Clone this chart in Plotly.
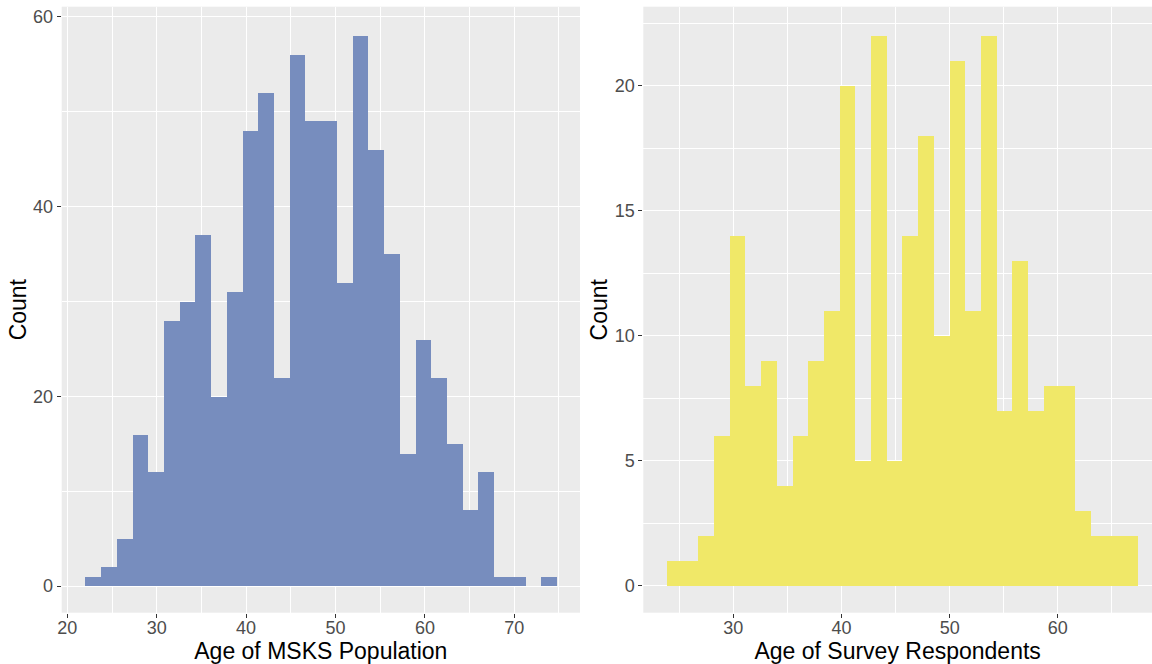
import numpy as np
import plotly.graph_objects as go

# ---- data ----
msks_counts = [1, 2, 5, 16, 12, 28, 30, 37, 20, 31, 48, 52, 22, 56, 49,
               49, 32, 58, 46, 35, 14, 26, 22, 15, 8, 12, 1, 1, 0, 1]
msks_bin_start = 21.98
msks_bin_width = 1.759

survey_counts = [1, 1, 2, 6, 14, 8, 9, 4, 6, 9, 11, 20, 5, 22, 5,
                 14, 18, 10, 21, 11, 22, 7, 13, 7, 8, 8, 3, 2, 2, 2]
survey_bin_start = 23.9
survey_bin_width = 1.451

left_xticks = [20, 30, 40, 50, 60, 70]
left_yticks = [0, 20, 40, 60]
right_xticks = [30, 40, 50, 60]
right_yticks = [0, 5, 10, 15, 20]

left_xtitle = "Age of MSKS Population"
right_xtitle = "Age of Survey Respondents"
ytitle = "Count"

# ---- styles ----
BLUE = "#778DBE"
YELLOW = "#F0E868"
PANEL = "#EBEBEB"
TICKCOL = "#4D4D4D"
FONT = "Liberation Sans, Arial, sans-serif"


def centers(start, width, n):
    return start + width * (np.arange(n) + 0.5)


fig = go.Figure()
fig.add_trace(go.Bar(
    x=centers(msks_bin_start, msks_bin_width, len(msks_counts)),
    y=msks_counts, width=msks_bin_width,
    marker=dict(color=BLUE, line=dict(width=0)),
    xaxis="x", yaxis="y", showlegend=False))
fig.add_trace(go.Bar(
    x=centers(survey_bin_start, survey_bin_width, len(survey_counts)),
    y=survey_counts, width=survey_bin_width,
    marker=dict(color=YELLOW, line=dict(width=0)),
    xaxis="x2", yaxis="y2", showlegend=False))

W, H = 1152, 664
ydom = [1 - 612.7 / H, 1 - 6.7 / H]
TITLE_FONT = dict(family=FONT, size=23, color="black")


def axis_common():
    return dict(
        showgrid=True, gridcolor="white", gridwidth=1.2,
        zeroline=False, showline=False,
        ticks="outside", ticklen=4, tickwidth=1, tickcolor="#333333",
        tickfont=dict(family=FONT, size=18, color=TICKCOL),
        fixedrange=True, automargin=False,
    )


xa = axis_common()
xa.update(domain=[61.7 / W, 580 / W], range=[19.37, 77.35],
          tickvals=left_xticks, anchor="y", ticklabelstandoff=-5,
          minor=dict(tick0=25, dtick=10, showgrid=True, gridcolor="white",
                     gridwidth=0.6, ticklen=0),
          title=dict(text=left_xtitle, font=TITLE_FONT, standoff=7))
ya = axis_common()
ya.update(domain=ydom, range=[-2.81, 61.06], tickvals=left_yticks, anchor="x",
          minor=dict(tick0=10, dtick=20, showgrid=True, gridcolor="white",
                     gridwidth=0.6, ticklen=0),
          title=dict(text=ytitle, font=TITLE_FONT, standoff=0))

xa2 = axis_common()
xa2.update(domain=[643.3 / W, 1.0], range=[21.69, 68.70],
           tickvals=right_xticks, anchor="y2", ticklabelstandoff=-5,
           minor=dict(tick0=25, dtick=10, showgrid=True, gridcolor="white",
                      gridwidth=0.6, ticklen=0),
           title=dict(text=right_xtitle, font=TITLE_FONT, standoff=7))
ya2 = axis_common()
ya2.update(domain=ydom, range=[-1.07, 23.16], tickvals=right_yticks, anchor="x2",
           minor=dict(tick0=2.5, dtick=5, showgrid=True, gridcolor="white",
                      gridwidth=0.6, ticklen=0),
           title=dict(text=ytitle, font=TITLE_FONT, standoff=0))

fig.update_layout(
    width=W, height=H,
    margin=dict(l=0, r=0, t=0, b=0),
    paper_bgcolor="white", plot_bgcolor=PANEL,
    font=dict(family=FONT),
    xaxis=xa, yaxis=ya, xaxis2=xa2, yaxis2=ya2,
    bargap=0,
)

fig.write_html(
    "out.html",
    config={"displayModeBar": False},
    post_script="document.body.style.margin='0';document.body.style.overflow='hidden';",
)
